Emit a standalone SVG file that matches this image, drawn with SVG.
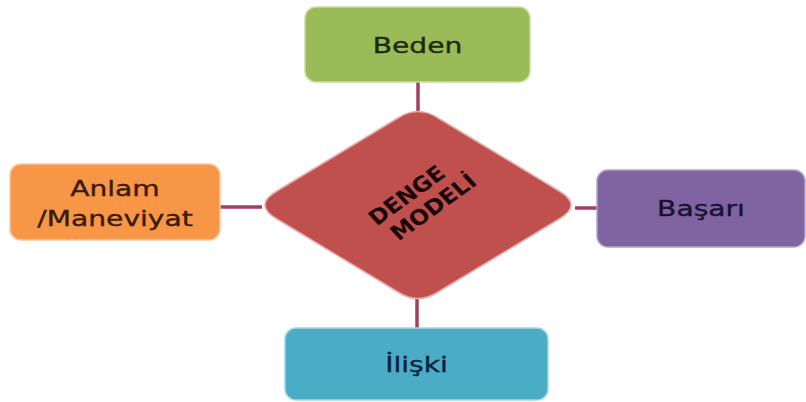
<svg xmlns="http://www.w3.org/2000/svg" width="806" height="402" viewBox="0 0 806 402">
<style>
.box{stroke-width:1.5}
.lbl{font-family:"DejaVu Sans",Verdana,sans-serif;font-size:22px;text-anchor:middle;stroke-width:0.35}
.dlbl{font-family:"DejaVu Sans",Verdana,sans-serif;font-size:21px;font-weight:bold;text-anchor:middle;fill:#1a0808}
.conn{stroke:#A63F5B;stroke-width:3.5;fill:none}
</style>
<rect width="806" height="402" fill="#ffffff"/>
<g id="connectors">
<line class="conn" x1="418" y1="82" x2="418" y2="113"/>
<line class="conn" x1="220" y1="207" x2="262" y2="207"/>
<line class="conn" x1="575" y1="208" x2="597" y2="208"/>
<line class="conn" x1="417" y1="297" x2="417" y2="328"/>
</g>
<g id="beden">
<rect class="box" x="305" y="7" width="225" height="75" rx="11" fill="#9BBB59" stroke="#c9dca6"/>
<text class="lbl" fill="#1a2a08" stroke="#1a2a08" transform="translate(417.5,53) scale(1.28,1)">Beden</text>
</g>
<g id="anlam">
<rect class="box" x="10" y="164" width="210" height="76" rx="11" fill="#F79646" stroke="#fbc79f"/>
<text class="lbl" fill="#3a1a05" stroke="#3a1a05" transform="translate(115,196) scale(1.28,1)">Anlam</text>
<text class="lbl" fill="#3a1a05" stroke="#3a1a05" transform="translate(115,226) scale(1.28,1)">/Maneviyat</text>
</g>
<g id="basari">
<rect class="box" x="597" y="170" width="208" height="77" rx="11" fill="#8064A2" stroke="#b3a2c8"/>
<text class="lbl" fill="#1a1030" stroke="#1a1030" transform="translate(701,216) scale(1.28,1)">Başarı</text>
</g>
<g id="iliski">
<rect class="box" x="285" y="328" width="263" height="72" rx="11" fill="#4BACC6" stroke="#a5d6e3"/>
<text class="lbl" fill="#0a2040" stroke="#0a2040" transform="translate(416.5,372) scale(1.28,1)">İlişki</text>
</g>
<g id="denge">
<path d="M398,118 Q418,105 438,118 L559,191 Q583,205 559,219 L438,292 Q418,305 398,292 L277,219 Q253,205 277,191 Z" fill="#C0504D" stroke="#e3aaa8" stroke-width="1.5"/>
<g transform="translate(418,203) scale(1.12,1) rotate(-39)">
<text class="dlbl" x="-3" y="-5">DENGE</text>
<text class="dlbl" x="8" y="19">MODELİ</text>
</g>
</g>
</svg>
